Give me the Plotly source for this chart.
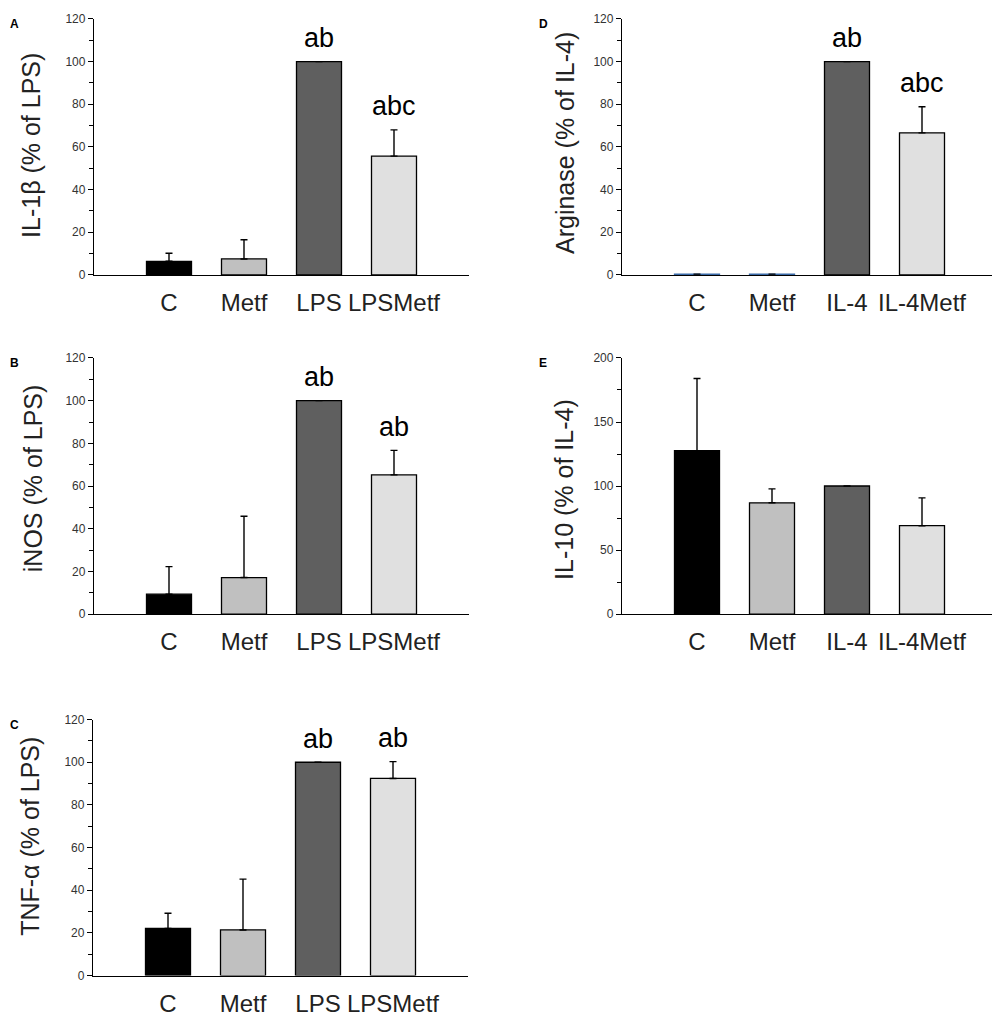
import plotly.graph_objects as go

# Dados (média e erro superior)
grupos_lps = ["C", "Metf", "LPS", "LPSMetf"]
grupos_il4 = ["C", "Metf", "IL-4", "IL-4Metf"]

il1b = [6.4, 7.5, 100, 55.7]
il1b_err = [3.8, 9.0, 0, 12.3]
il1b_letras = ["", "", "ab", "abc"]

inos = [9.3, 17.1, 100, 65.2]
inos_err = [12.9, 28.7, 0, 11.5]
inos_letras = ["", "", "ab", "ab"]

tnfa = [22.1, 21.4, 100, 92.4]
tnfa_err = [7.1, 23.8, 0, 7.9]
tnfa_letras = ["", "", "ab", "ab"]

arginase = [0.4, 0.4, 100, 66.6]
arginase_err = [0, 0, 0, 12.2]
arginase_letras = ["", "", "ab", "abc"]

il10 = [127.6, 86.9, 100, 69.0]
il10_err = [56.4, 10.9, 0, 21.7]
il10_letras = ["", "", "", ""]

cores = ["#000000", "#c0c0c0", "#5f5f5f", "#e0e0e0"]
cores_arg = ["#3a6aa8", "#3a6aa8", "#5f5f5f", "#e0e0e0"]
bordas_arg = ["#3a6aa8", "#3a6aa8", "#000000", "#000000"]
bordas = ["#000000"] * 4

# a página tem margem de 8px no body, então a figura fica 16px menor
M = 8
W, H = 1000 - 2 * M, 1025 - 2 * M
fonte = "Liberation Sans, Arial, sans-serif"


def px(p):
    return min(max((p - M) / W, 0), 1)


def py(p):
    return min(max(1 - (p - M) / H, 0), 1)


# posição dos painéis em pixels da página: (x0, x1, y_topo, y_base), centro do título
paineis = [
    ("A", grupos_lps, il1b, il1b_err, il1b_letras, "IL-1β (% of LPS)", 120, 20, cores, bordas, (94, 469, 12, 274), 31, 142),
    ("B", grupos_lps, inos, inos_err, inos_letras, "iNOS (% of LPS)", 120, 20, cores, bordas, (94, 469, 359, 621), 33, 482),
    ("C", grupos_lps, tnfa, tnfa_err, tnfa_letras, "TNF-α (% of LPS)", 120, 20, cores, bordas, (93, 468, 729, 991), 30, 849),
    ("D", grupos_il4, arginase, arginase_err, arginase_letras, "Arginase (% of IL-4)", 120, 20, cores_arg, bordas_arg, (622, 997, 12, 274), 565, 139),
    ("E", grupos_il4, il10, il10_err, il10_letras, "IL-10 (% of IL-4)", 200, 50, cores, bordas, (622, 997, 359, 621), 564, 494),
]

fig = go.Figure()
anot = []
for i, (letra, grupos, vals, errs, letras, titulo, ymax, passo, cor, borda, caixa, tx, ty) in enumerate(paineis):
    n = "" if i == 0 else str(i + 1)
    x0, x1, yt, yb = caixa
    s = (x1 - x0) / 5
    x1c = min(x1, M + W)
    fig.add_trace(go.Bar(
        x=grupos, y=vals, xaxis="x" + n, yaxis="y" + n,
        marker=dict(color=cor, line=dict(color=borda, width=1.3)),
        width=0.6,
        error_y=dict(type="data", symmetric=False, array=errs, arrayminus=[0] * 4,
                     color="black", thickness=1.4, width=3.5),
        showlegend=False,
    ))
    fig.update_layout(**{
        "xaxis" + n: dict(domain=[px(x0), px(x1c)], anchor="y" + n, range=[-1, -1 + (x1c - x0) / s],
                          showline=True, linecolor="black", linewidth=1.3,
                          ticks="", ticklabelstandoff=6,
                          tickfont=dict(family=fonte, size=24, color="#222"),
                          showgrid=False, zeroline=False, fixedrange=True),
        "yaxis" + n: dict(domain=[py(yb), py(yt)], anchor="x" + n, range=[0, ymax],
                          showline=True, linecolor="black", linewidth=1.3,
                          ticks="outside", ticklen=5, tickwidth=1.2, tickcolor="black",
                          dtick=passo,
                          minor=dict(dtick=passo / 2, ticks="outside", ticklen=4,
                                     tickwidth=1.2, tickcolor="black"),
                          tickfont=dict(family=fonte, size=12, color="#333"),
                          showgrid=False, zeroline=False, fixedrange=True),
    })
    for g, v, e, t in zip(grupos, vals, errs, letras):
        if t:
            anot.append(dict(x=g, y=v + e + 11 * ymax / 120, xref="x" + n, yref="y" + n,
                             text=t, showarrow=False, xanchor="center", yanchor="middle",
                             font=dict(family=fonte, size=27, color="black")))
    anot.append(dict(x=px(tx), y=py(ty), xref="paper", yref="paper", text=titulo,
                     textangle=-90, showarrow=False, xanchor="center", yanchor="middle",
                     font=dict(family=fonte, size=25, color="#222")))
    lx = 6 if x0 < 500 else 537
    anot.append(dict(x=px(lx), y=py(yt - 4), xref="paper", yref="paper", text="<b>" + letra + "</b>",
                     showarrow=False, xanchor="left", yanchor="top",
                     font=dict(family=fonte, size=12, color="black")))

fig.update_layout(
    width=W, height=H,
    margin=dict(l=0, r=0, t=0, b=0),
    plot_bgcolor="white", paper_bgcolor="white",
    annotations=anot,
)

fig.write_html("out.html")
